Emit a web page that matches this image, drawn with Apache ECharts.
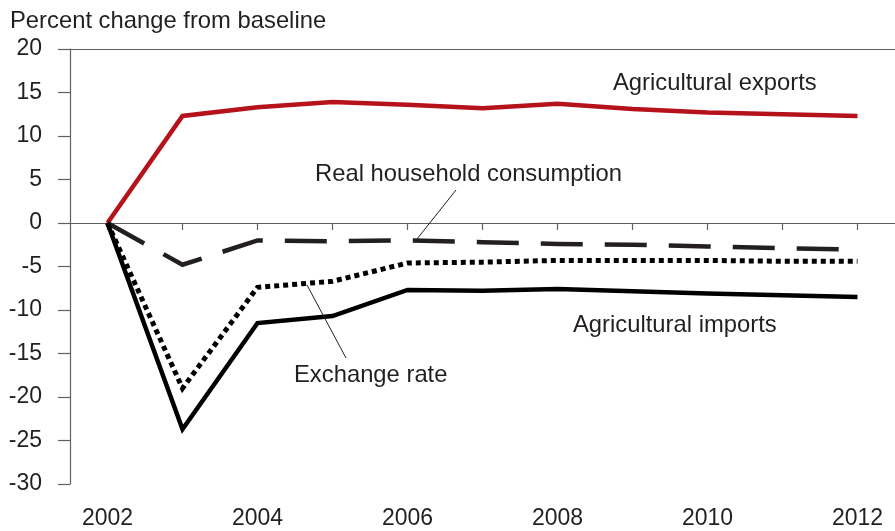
<!DOCTYPE html>
<html><head><meta charset="utf-8">
<script src="https://cdn.jsdelivr.net/npm/echarts@6/dist/echarts.min.js"></script>
<style>html,body{margin:0;padding:0;background:#fff}#c{width:895px;height:531px}</style>
</head><body><div id="c"></div>
<script>
const years = ['2002','2003','2004','2005','2006','2007','2008','2009','2010','2011','2012'];
const agExports = [0, 12.3, 13.3, 13.9, 13.6, 13.2, 13.7, 13.1, 12.7, 12.5, 12.3];
const householdConsumption = [0, -4.8, -2.0, -2.1, -2.0, -2.2, -2.4, -2.5, -2.7, -2.9, -3.05];
const exchangeRate = [0, -19.0, -7.4, -6.7, -4.6, -4.5, -4.3, -4.3, -4.3, -4.4, -4.4];
const agImports = [0, -23.7, -11.5, -10.7, -7.7, -7.8, -7.6, -7.85, -8.1, -8.3, -8.5];
const yTicks = {min: -30, max: 20, interval: 5};

const FONT = 'Liberation Sans, Arial, sans-serif';
const FS = 23;
const FS_NOTE = 23.8;
const chart = echarts.init(document.getElementById('c'));
const axisGray = '#5f6062';
const txt = '#231f20';

function lineSeries(name, data, color, type, width) {
  return {
    name, type: 'line', data, symbol: 'none', smooth: false,
    lineStyle: {color, width, type, cap: 'butt', join: 'miter'},
    z: 3
  };
}
function label(text, x, y) {
  return {type: 'text', x, y, z: 10, style: {text, font: FS_NOTE + 'px ' + FONT, fill: txt, verticalAlign: 'middle', align: 'left'}};
}
function leader(x1, y1, x2, y2) {
  return {type: 'line', z: 10, shape: {x1, y1, x2, y2}, style: {stroke: txt, lineWidth: 1}};
}

const option = {
  animation: false,
  backgroundColor: '#fff',
  grid: {left: 70, right: 0, top: 49, bottom: 47, containLabel: false},
  xAxis: [{
    type: 'category', data: years, boundaryGap: true,
    axisLine: {show: true, lineStyle: {color: axisGray, width: 1.2}},
    axisTick: {show: true, alignWithLabel: true, interval: 0, length: 7, lineStyle: {color: axisGray, width: 1.2}},
    axisLabel: {interval: 1, margin: 23, fontFamily: FONT, fontSize: FS, color: txt},
    splitLine: {show: false}
  }, {
    type: 'category', data: years, position: 'top', boundaryGap: true,
    axisLine: {show: true, lineStyle: {color: axisGray, width: 1.2}},
    axisTick: {show: false}, axisLabel: {show: false}
  }],
  yAxis: {
    type: 'value', min: yTicks.min, max: yTicks.max, interval: yTicks.interval,
    axisLine: {show: true, lineStyle: {color: axisGray, width: 1.2}},
    axisTick: {show: true, length: 12, lineStyle: {color: axisGray, width: 1.2}},
    axisLabel: {margin: 28, fontFamily: FONT, fontSize: FS, color: txt},
    splitLine: {show: false}
  },
  series: [
    Object.assign(lineSeries('Agricultural exports', agExports, '#b5121b', 'solid', 4.5), {
      markLine: {
        silent: true, symbol: 'none', label: {show: false},
        lineStyle: {color: axisGray, width: 1.2, type: 'solid'},
        data: [{yAxis: 0}], z: 1
      }
    }),
    lineSeries('Real household consumption', householdConsumption, '#231f20', [42, 22], 4.5),
    lineSeries('Exchange rate', exchangeRate, '#000', [5, 4], 5),
    lineSeries('Agricultural imports', agImports, '#000', 'solid', 4.5)
  ],
  graphic: [
    label('Percent change from baseline', 10, 21),
    label('Agricultural exports', 613, 83),
    label('Real household consumption', 315, 174),
    leader(456, 190, 417, 239),
    label('Exchange rate', 294, 375),
    leader(307, 285, 346, 358),
    label('Agricultural imports', 573, 325)
  ]
};
chart.setOption(option);
</script></body></html>
